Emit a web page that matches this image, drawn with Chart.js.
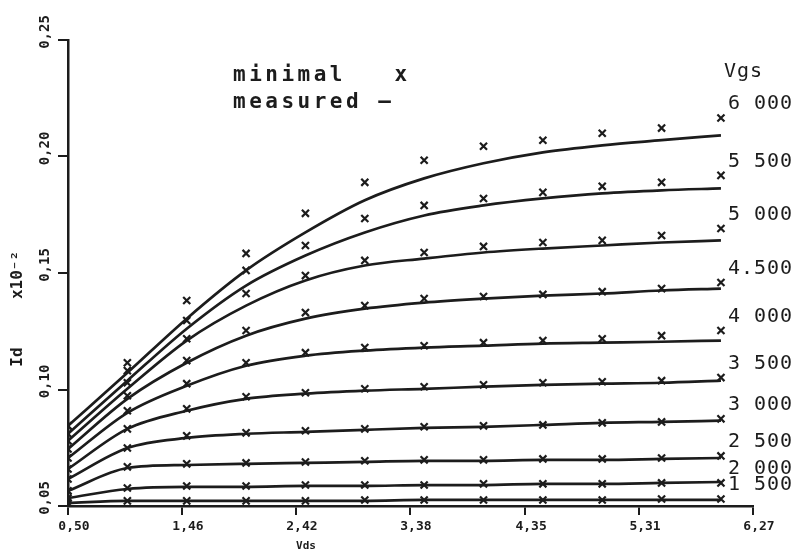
<!DOCTYPE html>
<html>
<head>
<meta charset="utf-8">
<script src="https://cdn.jsdelivr.net/npm/chart.js@4.4.1/dist/chart.umd.min.js"></script>
<style>
  html, body { margin: 0; padding: 0; background: #fff; }
  #wrap { width: 800px; height: 556px; }
</style>
</head>
<body>
<div id="wrap"><canvas id="ivChart" width="800" height="556"></canvas></div>
<script>
// Vds sample points (V)
const vds = [0.5, 1.0, 1.5, 2.0, 2.5, 3.0, 3.5, 4.0, 4.5, 5.0, 5.5, 6.0];
const xTicks = [0.50, 1.46, 2.42, 3.38, 4.35, 5.31, 6.27];
const yTicks = [0.05, 0.10, 0.15, 0.20, 0.25];
const vgsLabels = ['6 000', '5 500', '5 000', '4.500', '4 000', '3 500', '3 000', '2 500', '2 000', '1 500'];

// measured curves (solid lines), Id x10^-2
const measured6000 = [0.0844, 0.1072, 0.1304, 0.1511, 0.1674, 0.1812, 0.1906, 0.1971, 0.2018, 0.2048, 0.2070, 0.2091];
const measured5500 = [0.0810, 0.1038, 0.1261, 0.1446, 0.1575, 0.1674, 0.1747, 0.1790, 0.1820, 0.1842, 0.1855, 0.1863];
const measured5000 = [0.0780, 0.1003, 0.1210, 0.1360, 0.1468, 0.1532, 0.1562, 0.1588, 0.1605, 0.1618, 0.1631, 0.1640];
const measured4500 = [0.0745, 0.0960, 0.1115, 0.1231, 0.1304, 0.1347, 0.1373, 0.1390, 0.1403, 0.1412, 0.1425, 0.1433];
const measured4000 = [0.0706, 0.0900, 0.1016, 0.1102, 0.1145, 0.1167, 0.1180, 0.1188, 0.1197, 0.1201, 0.1205, 0.1210];
const measured3500 = [0.0659, 0.0831, 0.0909, 0.0960, 0.0982, 0.0995, 0.1003, 0.1012, 0.1020, 0.1025, 0.1029, 0.1038];
const measured3000 = [0.0616, 0.0749, 0.0792, 0.0810, 0.0818, 0.0827, 0.0835, 0.0840, 0.0848, 0.0857, 0.0861, 0.0866];
const measured2500 = [0.0565, 0.0663, 0.0676, 0.0681, 0.0685, 0.0689, 0.0694, 0.0694, 0.0698, 0.0698, 0.0702, 0.0706];
const measured2000 = [0.0534, 0.0573, 0.0582, 0.0582, 0.0586, 0.0586, 0.0590, 0.0590, 0.0595, 0.0595, 0.0599, 0.0603];
const measured1500 = [0.0513, 0.0522, 0.0522, 0.0522, 0.0522, 0.0522, 0.0526, 0.0526, 0.0526, 0.0526, 0.0526, 0.0526];

// minimal model (x markers)
const minimal6000 = [0.0844, 0.1115, 0.1382, 0.1584, 0.1756, 0.1889, 0.1984, 0.2044, 0.2070, 0.2100, 0.2122, 0.2165];
const minimal5500 = [0.0810, 0.1081, 0.1296, 0.1511, 0.1618, 0.1734, 0.1790, 0.1820, 0.1846, 0.1872, 0.1889, 0.1919];
const minimal5000 = [0.0780, 0.1029, 0.1218, 0.1412, 0.1489, 0.1554, 0.1588, 0.1614, 0.1631, 0.1640, 0.1661, 0.1691];
const minimal4500 = [0.0745, 0.0973, 0.1124, 0.1253, 0.1330, 0.1360, 0.1390, 0.1399, 0.1408, 0.1420, 0.1433, 0.1459];
const minimal4000 = [0.0706, 0.0909, 0.1025, 0.1115, 0.1158, 0.1180, 0.1188, 0.1201, 0.1210, 0.1218, 0.1231, 0.1253];
const minimal3500 = [0.0659, 0.0831, 0.0917, 0.0969, 0.0986, 0.1003, 0.1012, 0.1020, 0.1029, 0.1033, 0.1038, 0.1051];
const minimal3000 = [0.0616, 0.0749, 0.0801, 0.0814, 0.0823, 0.0831, 0.0840, 0.0844, 0.0848, 0.0857, 0.0861, 0.0874];
const minimal2500 = [0.0565, 0.0668, 0.0681, 0.0685, 0.0689, 0.0694, 0.0698, 0.0698, 0.0702, 0.0702, 0.0706, 0.0715];
const minimal2000 = [0.0534, 0.0577, 0.0586, 0.0586, 0.0590, 0.0590, 0.0590, 0.0595, 0.0595, 0.0595, 0.0599, 0.0599];
const minimal1500 = [0.0513, 0.0522, 0.0522, 0.0522, 0.0522, 0.0526, 0.0526, 0.0526, 0.0526, 0.0526, 0.0530, 0.0530];

const measuredAll = [measured6000, measured5500, measured5000, measured4500, measured4000,
    measured3500, measured3000, measured2500, measured2000, measured1500];
const minimalAll = [minimal6000, minimal5500, minimal5000, minimal4500, minimal4000,
    minimal3500, minimal3000, minimal2500, minimal2000, minimal1500];

const ink = '#1c1c1c';
const mono = '"DejaVu Sans Mono", "Liberation Mono", monospace';

function toPoints(arr) {
    return vds.map((x, i) => ({ x: x, y: arr[i] }));
}

const datasets = [];
measuredAll.forEach((arr, i) => {
    datasets.push({
        label: 'measured ' + vgsLabels[i],
        data: toPoints(arr),
        borderColor: ink,
        borderWidth: 2.7,
        pointRadius: 0,
        cubicInterpolationMode: 'monotone',
        fill: false
    });
});
minimalAll.forEach((arr, i) => {
    datasets.push({
        label: 'minimal ' + vgsLabels[i],
        data: toPoints(arr),
        showLine: false,
        pointStyle: 'crossRot',
        pointRadius: 5,
        pointBorderWidth: 2.2,
        pointBorderColor: ink,
        pointBackgroundColor: ink
    });
});

// all the plotter-style text is drawn here
const textPlugin = {
    id: 'plotterText',
    afterDraw(chart) {
        const ctx = chart.ctx;
        const xs = chart.scales.x;
        const ys = chart.scales.y;
        ctx.save();
        ctx.fillStyle = ink;
        ctx.textBaseline = 'middle';
        ctx.textAlign = 'center';

        // x tick labels
        ctx.font = 'bold 13px ' + mono;
        xTicks.forEach(v => {
            ctx.fillText(v.toFixed(2).replace('.', ','), xs.getPixelForValue(v) + 6, 527);
        });

        // y tick labels, rotated
        ctx.font = 'bold 14px ' + mono;
        yTicks.forEach(v => {
            ctx.save();
            ctx.translate(45, ys.getPixelForValue(v) - 8);
            ctx.rotate(-Math.PI / 2);
            ctx.fillText(v.toFixed(2).replace('.', ','), 0, 0);
            ctx.restore();
        });

        // axis titles
        ctx.font = 'bold 11px ' + mono;
        ctx.fillText('Vds', 306, 546);
        ctx.save();
        ctx.translate(18, 357);
        ctx.rotate(-Math.PI / 2);
        ctx.font = 'bold 16px ' + mono;
        ctx.fillText('Id', 0, 0);
        ctx.fillText('x10\u207B\u00B2', 82, 0);
        ctx.restore();

        // legend text
        ctx.textAlign = 'left';
        ctx.font = 'bold 21px ' + mono;
        ctx.letterSpacing = '3.5px';
        ctx.fillText('minimal   x', 233, 76);
        ctx.fillText('measured \u2013', 233, 103);

        // Vgs labels
        ctx.letterSpacing = '1px';
        ctx.font = '20px ' + mono;
        ctx.fillText('Vgs', 724, 72);
        const xEnd = xs.getPixelForValue(vds[vds.length - 1]);
        minimalAll.forEach((arr, i) => {
            const yEnd = ys.getPixelForValue(arr[arr.length - 1]);
            ctx.fillText(vgsLabels[i], xEnd + 7, yEnd - 14);
        });
        ctx.restore();
    }
};

new Chart(document.getElementById('ivChart').getContext('2d'), {
    type: 'line',
    data: { datasets: datasets },
    options: {
        responsive: false,
        animation: false,
        layout: { padding: { left: 58, right: 47, top: 40, bottom: 41 } },
        plugins: {
            legend: { display: false },
            tooltip: { enabled: false }
        },
        scales: {
            x: {
                type: 'linear',
                min: 0.5,
                max: 6.27,
                afterBuildTicks: scale => { scale.ticks = xTicks.map(v => ({ value: v })); },
                ticks: { display: false },
                grid: { drawOnChartArea: false, drawTicks: true, tickLength: 9, color: ink, lineWidth: 2 },
                border: { display: true, color: ink, width: 2.5 }
            },
            y: {
                type: 'linear',
                min: 0.05,
                max: 0.25,
                afterBuildTicks: scale => { scale.ticks = yTicks.map(v => ({ value: v })); },
                ticks: { display: false },
                grid: { drawOnChartArea: false, drawTicks: true, tickLength: 10, color: ink, lineWidth: 2 },
                border: { display: true, color: ink, width: 2.5 }
            }
        }
    },
    plugins: [textPlugin]
});
</script>
</body>
</html>
